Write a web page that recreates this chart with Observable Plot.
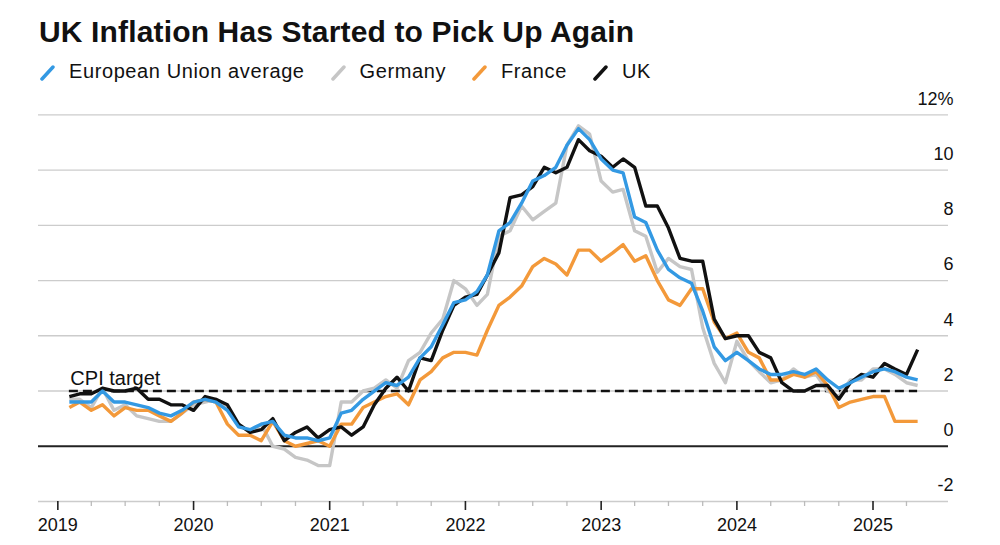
<!DOCTYPE html>
<html>
<head>
<meta charset="utf-8">
<script src="https://cdn.jsdelivr.net/npm/d3@7"></script>
<script src="https://cdn.jsdelivr.net/npm/@observablehq/plot@0.6"></script>
<style>
  html, body { margin: 0; padding: 0; background: #fff; }
  body { font-family: "Liberation Sans", Arial, sans-serif; color: #111; width: 1000px; }
  #header { position: relative; width: 1000px; height: 90px; }
  #title { position: absolute; left: 39px; top: 16.9px; font-size: 30px; line-height: 30px; font-weight: bold; letter-spacing: 0.15px; white-space: nowrap; }
  #legend { position: absolute; left: 40px; top: 60.8px; display: flex; align-items: center; font-size: 20px; line-height: 20px; letter-spacing: 0.6px; white-space: nowrap; }
  .item { display: flex; align-items: center; margin-right: 26px; }
  .item svg { position: relative; top: 2px; margin-right: 14px; }
</style>
</head>
<body>
<div id="header">
  <div id="title">UK Inflation Has Started to Pick Up Again</div>
  <div id="legend"></div>
</div>
<div id="chart"></div>
<script>
// Monthly CPI/HICP, Jan 2019 - Apr 2025 (annual % change)
const startMonth = "2019-01";
const seriesNames = ["European Union average", "Germany", "France", "UK"];
const seriesColors = ["#3399e3", "#c6c6c6", "#f3993a", "#111111"];

const eu = [
  1.6,1.6,1.6,2.0,1.6,1.6,1.5,1.4,1.2,1.1,1.3,1.6,
  1.7,1.6,1.3,0.7,0.6,0.8,0.9,0.4,0.3,0.3,0.2,0.3,
  1.2,1.3,1.7,2.0,2.3,2.2,2.5,3.2,3.6,4.4,5.2,5.3,
  5.6,6.2,7.8,8.1,8.8,9.6,9.8,10.1,10.9,11.5,11.1,10.4,
  10.0,9.9,8.3,8.1,7.1,6.4,6.1,5.9,4.9,3.6,3.1,3.4,
  3.1,2.8,2.6,2.6,2.7,2.6,2.8,2.4,2.1,2.3,2.5,2.7,
  2.8,2.7,2.5,2.4
];
const germany = [
  1.7,1.7,1.4,2.1,1.3,1.5,1.1,1.0,0.9,0.9,1.2,1.5,
  1.6,1.7,1.3,0.8,0.5,0.8,0.0,-0.1,-0.4,-0.5,-0.7,-0.7,
  1.6,1.6,2.0,2.1,2.4,2.1,3.1,3.4,4.1,4.6,6.0,5.7,
  5.1,5.5,7.6,7.8,8.7,8.2,8.5,8.8,10.9,11.6,11.3,9.6,
  9.2,9.3,7.8,7.6,6.3,6.8,6.5,6.4,4.3,3.0,2.3,3.8,
  3.1,2.7,2.3,2.4,2.8,2.5,2.6,2.0,1.8,2.4,2.4,2.8,
  2.8,2.6,2.3,2.2
];
const france = [
  1.4,1.6,1.3,1.5,1.1,1.4,1.3,1.3,1.1,0.9,1.2,1.6,
  1.7,1.6,0.8,0.4,0.4,0.2,0.9,0.2,0.0,0.1,0.2,0.0,
  0.8,0.8,1.4,1.6,1.8,1.9,1.5,2.4,2.7,3.2,3.4,3.4,
  3.3,4.2,5.1,5.4,5.8,6.5,6.8,6.6,6.2,7.1,7.1,6.7,
  7.0,7.3,6.7,6.9,6.0,5.3,5.1,5.7,5.7,4.5,3.9,4.1,
  3.4,3.2,2.4,2.4,2.6,2.5,2.7,2.2,1.4,1.6,1.7,1.8,
  1.8,0.9,0.9,0.9
];
const uk = [
  1.8,1.9,1.9,2.1,2.0,2.0,2.1,1.7,1.7,1.5,1.5,1.3,
  1.8,1.7,1.5,0.8,0.5,0.6,1.0,0.2,0.5,0.7,0.3,0.6,
  0.7,0.4,0.7,1.5,2.1,2.5,2.0,3.2,3.1,4.2,5.1,5.4,
  5.5,6.2,7.0,9.0,9.1,9.4,10.1,9.9,10.1,11.1,10.7,10.5,
  10.1,10.4,10.1,8.7,8.7,7.9,6.8,6.7,6.7,4.6,3.9,4.0,
  4.0,3.4,3.2,2.3,2.0,2.0,2.2,2.2,1.7,2.3,2.6,2.5,
  3.0,2.8,2.6,3.5
];

const yTicks = [-2, 0, 2, 4, 6, 8, 10, 12];
const yearTicks = ["2019","2020","2021","2022","2023","2024","2025"];
const cpiTarget = 2;
const cpiLabel = "CPI target";

// Legend
const legend = document.getElementById("legend");
seriesNames.forEach((name, i) => {
  const item = document.createElement("div");
  item.className = "item";
  item.innerHTML = `<svg width="15" height="16" viewBox="0 0 15 16"><line x1="2" y1="14" x2="13" y2="2" stroke="${seriesColors[i]}" stroke-width="3.5" stroke-linecap="round"/></svg><span>${name}</span>`;
  legend.appendChild(item);
});

// Build data: each monthly value plotted at the end of its month
const t0 = d3.utcParse("%Y-%m")(startMonth);
const seriesValues = [eu, germany, france, uk];
const rows = [];
seriesValues.forEach((vals, i) => {
  vals.forEach((v, k) => {
    rows.push({series: seriesNames[i], date: d3.utcMonth.offset(t0, k + 1), value: v});
  });
});
const firstDate = rows[0].date;
const lastDate = rows[eu.length - 1].date;

const yearDates = yearTicks.map(y => d3.utcParse("%Y")(y));
const quarterDates = [];
yearDates.forEach(d => { [3, 6, 9].forEach(m => { const q = d3.utcMonth.offset(d, m); if (q < new Date(Date.UTC(2025, 6, 1))) quarterDates.push(q); }); });

const drawOrder = ["Germany", "France", "UK", "European Union average"];

const chart = Plot.plot({
  width: 1000,
  height: 455,
  marginLeft: 38,
  marginRight: 52,
  marginTop: 24.3,
  marginBottom: 44,
  style: { fontFamily: '"Liberation Sans", Arial, sans-serif', background: "#fff", color: "#111", overflow: "visible" },
  x: { type: "utc", domain: [new Date(Date.UTC(2018, 10, 10)), new Date(Date.UTC(2025, 6, 23))], label: null },
  y: { domain: [-2, 12], label: null },
  marks: [
    Plot.ruleY(yTicks.filter(d => d !== 0), { stroke: "#cccccc", strokeWidth: 1.3 }),
    Plot.axisX({ ticks: quarterDates, tickSize: 5, stroke: "#bbbbbb", strokeWidth: 1.3, tickFormat: () => "", label: null }),
    Plot.axisX({ ticks: yearDates, tickSize: 9, stroke: "#222", strokeWidth: 1.6, tickPadding: 8, tickFormat: d3.utcFormat("%Y"), fontSize: 18, fill: "#111", label: null }),
    Plot.axisY({ anchor: "right", ticks: yTicks, tickSize: 0, tickFormat: d => d === 12 ? "12%" : String(d), textAnchor: "end", dx: -4, dy: -16, fontSize: 18, fill: "#111", label: null }),
    Plot.ruleY([0], { stroke: "#222", strokeWidth: 1.8 }),
    Plot.ruleY([cpiTarget], { x1: firstDate, x2: lastDate, stroke: "#111", strokeWidth: 2.6, strokeDasharray: "9,5" }),
    ...drawOrder.map(name => Plot.line(rows.filter(r => r.series === name), {
      x: "date", y: "value",
      stroke: seriesColors[seriesNames.indexOf(name)],
      strokeWidth: 3.4, strokeLinejoin: "round", strokeLinecap: "butt"
    })),
    Plot.text([cpiLabel], { x: firstDate, y: cpiTarget, text: d => d, textAnchor: "start", lineAnchor: "bottom", dx: 1, dy: -6, fontSize: 20, fill: "#111", style: "letter-spacing:0.7px" })
  ]
});
document.getElementById("chart").appendChild(chart);
</script>
</body>
</html>
